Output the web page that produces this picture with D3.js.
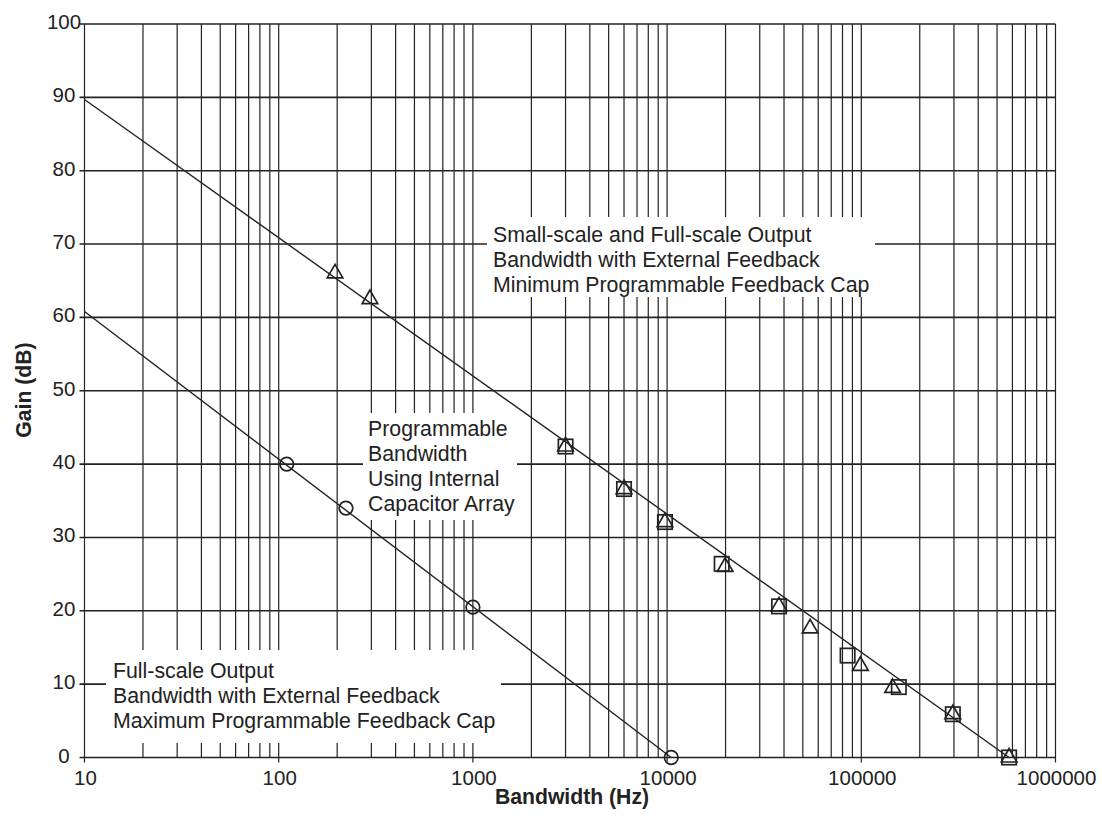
<!DOCTYPE html>
<html>
<head>
<meta charset="utf-8">
<script src="https://cdn.jsdelivr.net/npm/d3@7"></script>
<style>
  html, body { margin: 0; padding: 0; background: #fff; }
  svg { display: block; }
  text { font-family: "Liberation Sans", Arial, Helvetica, sans-serif; fill: #222; }
</style>
</head>
<body>
<svg id="chart" width="1102" height="816"></svg>
<script>
// ---- data ----
const yTicks = [0, 10, 20, 30, 40, 50, 60, 70, 80, 90, 100];
const xTickLabels = [10, 100, 1000, 10000, 100000, 1000000];

// straight response lines (Hz, dB)
const lineMaxCap = [[10, 60.8], [10500, 0]];
const lineMinCap = [[10, 89.7], [577000, 0]];

// measured points
const circlePts = [[110, 40], [222, 34], [1000, 20.5], [10500, 0]];
const trianglePts = [[195, 66.0], [295, 62.5], [3000, 42.4], [6000, 36.6], [9750, 32.1],
  [19900, 26.0], [37700, 20.6], [54500, 17.6], [99000, 12.5], [145000, 9.5],
  [296000, 5.9], [577000, 0]];
const squarePts = [[3000, 42.4], [6000, 36.6], [9750, 32.1], [19100, 26.4], [37700, 20.6],
  [85000, 13.9], [156000, 9.6], [296000, 5.9], [577000, 0]];

const notes = [
  { lines: ["Small-scale and Full-scale Output", "Bandwidth with External Feedback", "Minimum Programmable Feedback Cap"],
    x: 493, y: 241.5, box: [487, 217, 875, 297] },
  { lines: ["Programmable", "Bandwidth", "Using Internal", "Capacitor Array"],
    x: 368, y: 435.5, box: [363, 413, 517, 520] },
  { lines: ["Full-scale Output", "Bandwidth with External Feedback", "Maximum Programmable Feedback Cap"],
    x: 113, y: 677.5, box: [106, 650, 501, 743] }
];

// ---- layout ----
const svg = d3.select("#chart");
const L = 84.5, R = 1055.5, T = 24, B = 757.5;
const x = d3.scaleLog().domain([10, 1e6]).range([L, R]);
const y = d3.scaleLinear().domain([0, 100]).range([B, T]);
const ink = "#222";

const grid = svg.append("g");
// vertical grid (log)
grid.selectAll("line.v").data(x.ticks()).join("line")
  .attr("x1", d => x(d)).attr("x2", d => x(d))
  .attr("y1", T).attr("y2", d => (Math.abs(Math.log10(d) - Math.round(Math.log10(d))) < 1e-9) ? B + 5 : B)
  .attr("stroke", ink).attr("stroke-width", 1.2);
// horizontal grid
grid.selectAll("line.h").data(yTicks).join("line")
  .attr("x1", L - 5).attr("x2", R)
  .attr("y1", d => y(d)).attr("y2", d => y(d))
  .attr("stroke", ink).attr("stroke-width", 1.6);

// note boxes (white) hiding grid
notes.forEach(n => {
  svg.append("rect").attr("x", n.box[0]).attr("y", n.box[1])
    .attr("width", n.box[2] - n.box[0]).attr("height", n.box[3] - n.box[1])
    .attr("fill", "#fff");
  const t = svg.append("text").attr("x", n.x).attr("y", n.y).attr("font-size", 21.3);
  n.lines.forEach((s, i) => t.append("tspan").attr("x", n.x).attr("dy", i === 0 ? 0 : 25).text(s));
});

// axis labels
svg.append("g").selectAll("text").data(yTicks).join("text")
  .attr("x", 64).attr("y", d => y(d) + 5)
  .attr("text-anchor", "middle").attr("font-size", 20.5)
  .text(d => d);
svg.append("g").selectAll("text").data(xTickLabels).join("text")
  .attr("x", d => x(d) + 1).attr("y", 785)
  .attr("text-anchor", "middle").attr("font-size", 20.5)
  .text(d => d);

svg.append("text").attr("x", 572).attr("y", 804)
  .attr("text-anchor", "middle").attr("font-size", 21.2).attr("font-weight", "bold")
  .text("Bandwidth (Hz)");
svg.append("text").attr("transform", "translate(31,390) rotate(-90)")
  .attr("text-anchor", "middle").attr("font-size", 21.2).attr("font-weight", "bold")
  .text("Gain (dB)");

// response lines
const lineGen = d3.line().x(d => x(d[0])).y(d => y(d[1]));
[lineMaxCap, lineMinCap].forEach(l => {
  svg.append("path").attr("d", lineGen(l)).attr("fill", "none")
    .attr("stroke", ink).attr("stroke-width", 1.4);
});

// markers
const mk = svg.append("g").attr("fill", "none").attr("stroke", ink).attr("stroke-width", 1.7);
mk.selectAll("circle").data(circlePts).join("circle")
  .attr("cx", d => x(d[0])).attr("cy", d => y(d[1])).attr("r", 6.8);
mk.selectAll("rect").data(squarePts).join("rect")
  .attr("x", d => x(d[0]) - 7.2).attr("y", d => y(d[1]) - 7.2)
  .attr("width", 14.4).attr("height", 14.4);
const tri = d3.symbol().type(d3.symbolTriangle).size(105);
mk.selectAll("path.tri").data(trianglePts).join("path")
  .attr("class", "tri")
  .attr("transform", d => `translate(${x(d[0])},${y(d[1])})`)
  .attr("d", tri);
</script>
</body>
</html>
